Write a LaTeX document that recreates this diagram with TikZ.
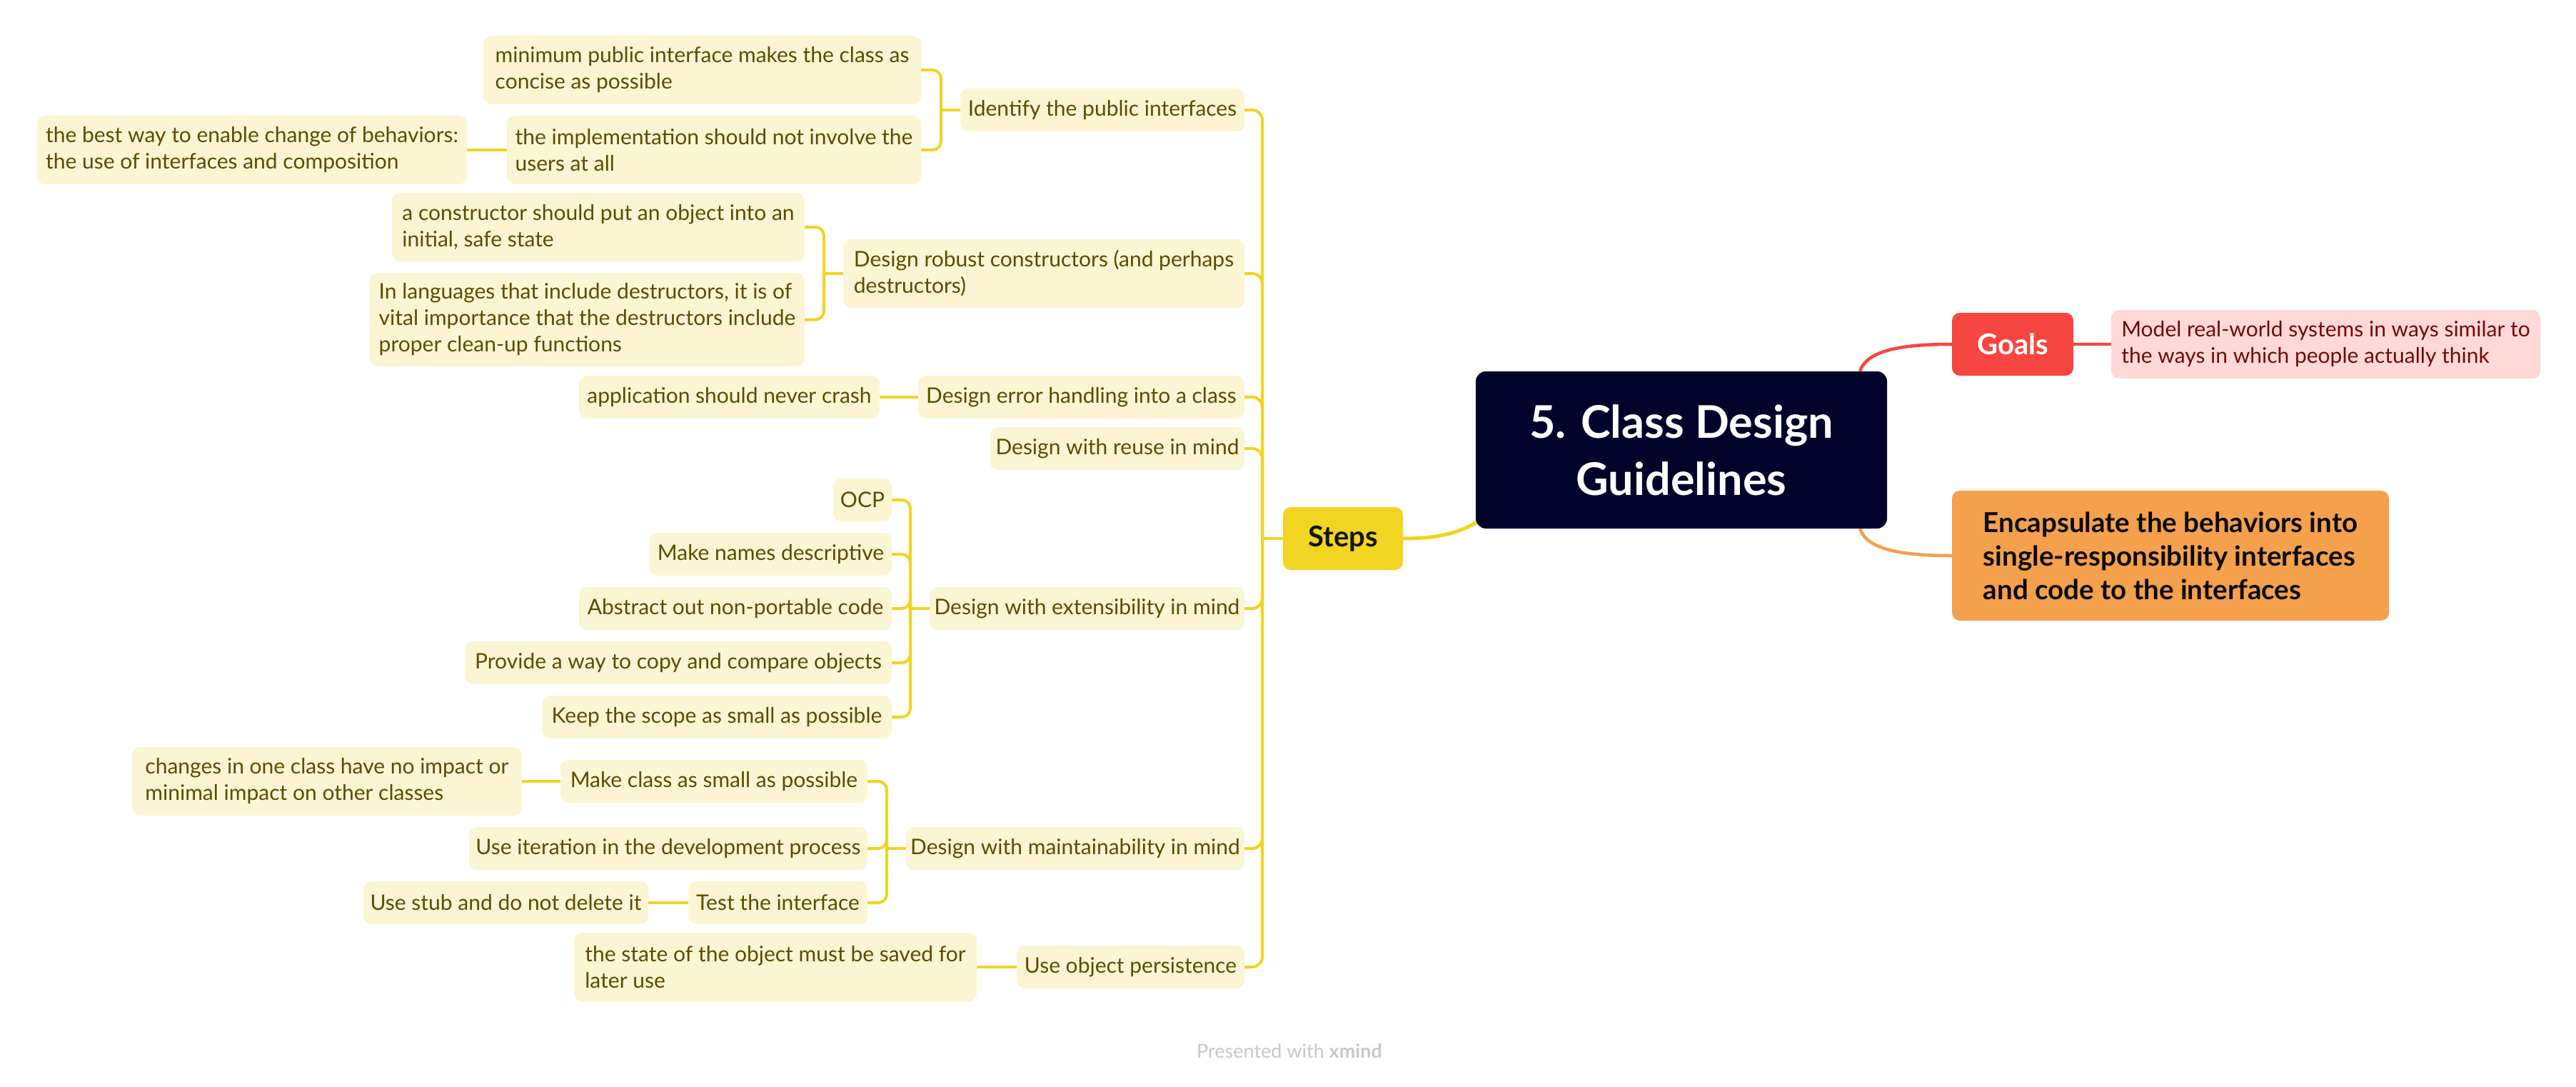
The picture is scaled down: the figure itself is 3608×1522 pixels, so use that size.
\documentclass[tikz,border=0pt]{standalone}
\usepackage{fontspec}
\setmainfont{Lato}
\usetikzlibrary{calc}
\definecolor{lvfill}{HTML}{FCF5D4}
\definecolor{lvtext}{HTML}{5C4C00}
\definecolor{ylc}{HTML}{F2D322}
\definecolor{stfill}{HTML}{F2D422}
\definecolor{sttext}{HTML}{141414}
\definecolor{cnfill}{HTML}{02032B}
\definecolor{glfill}{HTML}{F7463F}
\definecolor{pkfill}{HTML}{FFD9D7}
\definecolor{pktext}{HTML}{6E0B0B}
\definecolor{orfill}{HTML}{F5A04D}
\definecolor{ortext}{HTML}{0A0A0A}
\definecolor{wmtext}{HTML}{C8C8C8}
\pgfdeclarelayer{bg}
\pgfsetlayers{bg,main}
\newcommand\mmnode[7]{\node[#6, minimum width={#4-#2}, minimum height={#5-#3}] (#1) at ({(#2+#4)/2},{(#3+#5)/2}) {#7};}
\begin{document}
\begin{tikzpicture}[x=1pt,y=-1pt,
  base/.style={inner sep=0pt, rounded corners=11pt, align=left},
  lvl/.style={base, fill=lvfill, text=lvtext, font=\fontsize{30}{37}\selectfont},
  stepsbox/.style={base, fill=stfill, text=sttext, font=\bfseries\fontsize{40}{44}\selectfont},
  titlebox/.style={base, rounded corners=14pt, fill=cnfill, text=white, align=center, font=\bfseries\fontsize{63}{80}\selectfont},
  goalbox/.style={base, fill=glfill, text=white, font=\bfseries\fontsize{40}{44}\selectfont},
  pinkbox/.style={base, fill=pkfill, text=pktext, font=\fontsize{30}{37}\selectfont},
  orbox/.style={base, fill=orfill, text=ortext, font=\bfseries\fontsize{38.5}{47}\selectfont},
  ylink/.style={draw=ylc, line width=4pt},
  ymain/.style={draw=ylc, line width=5pt},
  rlink/.style={draw=glfill, line width=4.5pt},
  olink/.style={draw=orfill, line width=4.5pt}
]
\begin{pgfonlayer}{bg}
\fill[white] (0,0) rectangle (3608,1522);
\end{pgfonlayer}
\useasboundingbox (0,0) rectangle (3608,1522);

% central and main branches
\mmnode{cen}{2067}{520}{2643}{740}{titlebox}{5. Class Design\\Guidelines}
\mmnode{steps}{1797}{710}{1965}{798}{stepsbox}{Steps}
\mmnode{goals}{2734}{438}{2904}{526}{goalbox}{Goals}
\mmnode{pink}{2957}{434}{3558}{530}{pinkbox}{Model real-world systems in ways similar to\\the ways in which people actually think}
\mmnode{or}{2734}{687}{3346}{869}{orbox}{Encapsulate the behaviors into\\single-responsibility interfaces\\and code to the interfaces}

% level 2
\mmnode{id}{1345}{124}{1743}{184}{lvl}{Identify the public interfaces}
\mmnode{dr}{1181}{335}{1743}{431}{lvl}{Design robust constructors (and perhaps\\destructors)}
\mmnode{eh}{1286}{526}{1743}{586}{lvl}{Design error handling into a class}
\mmnode{ru}{1387}{598}{1743}{658}{lvl}{Design with reuse in mind}
\mmnode{ex}{1302}{822}{1743}{882}{lvl}{Design with extensibility in mind}
\mmnode{mt}{1269}{1158}{1743}{1218}{lvl}{Design with maintainability in mind}
\mmnode{op}{1424}{1324}{1743}{1384}{lvl}{Use object persistence}

% level 3
\mmnode{mp}{677}{50}{1290}{146}{lvl}{minimum public interface makes the class as\\concise as possible}
\mmnode{im}{710}{162}{1290}{258}{lvl}{the implementation should not involve the\\users at all}
\mmnode{bw}{52}{162}{654}{258}{lvl}{the best way to enable change of behaviors:\\the use of interfaces and composition}
\mmnode{co}{549}{270}{1127}{366}{lvl}{a constructor should put an object into an\\initial, safe state}
\mmnode{la}{518}{382}{1127}{513}{lvl}{In languages that include destructors, it is of\\vital importance that the destructors include\\proper clean-up functions}
\mmnode{ap}{811}{526}{1232}{586}{lvl}{application should never crash}
\mmnode{ocp}{1167}{670}{1249}{730}{lvl}{OCP}
\mmnode{mn}{910}{746}{1249}{806}{lvl}{Make names descriptive}
\mmnode{ab}{811}{822}{1249}{882}{lvl}{Abstract out non-portable code}
\mmnode{pw}{651}{898}{1249}{958}{lvl}{Provide a way to copy and compare objects}
\mmnode{ks}{759}{974}{1249}{1034}{lvl}{Keep the scope as small as possible}
\mmnode{mc}{785}{1064}{1215}{1124}{lvl}{Make class as small as possible}
\mmnode{ch}{185}{1046}{731}{1142}{lvl}{changes in one class have no impact or\\minimal impact on other classes}
\mmnode{ui}{657}{1158}{1215}{1218}{lvl}{Use iteration in the development process}
\mmnode{ti}{964}{1234}{1215}{1294}{lvl}{Test the interface}
\mmnode{us}{509}{1234}{908}{1294}{lvl}{Use stub and do not delete it}
\mmnode{st}{804}{1306}{1368}{1402}{lvl}{the state of the object must be saved for\\later use}

% watermark
\node[text=wmtext, font=\fontsize{27}{30}\selectfont, inner sep=0pt] (wm) at (1806,1472) {Presented with \textbf{xmind}};

\begin{pgfonlayer}{bg}
% main connectors
\draw[ymain] (steps.east) .. controls +(55,0) and +(-25,14) .. ([shift={(4pt,10pt)}]cen.south west);
\draw[rlink] ([xshift=-38pt]cen.north east) .. controls +(10,-32) and +(-60,0) .. (goals.west);
\draw[olink] ([xshift=-38pt]cen.south east) .. controls +(10,32) and +(-60,0) .. (or.west);
\draw[rlink] (goals.east) -- (pink.west);
% trunk
\coordinate (stj) at (1768,754);
\draw[ylink] (steps.west) -- (stj);
\foreach \c in {id,dr,eh,ru,ex,mt,op} \draw[ylink, rounded corners=14pt] (stj) |- (\c.east);
% brackets
\coordinate (idj) at (1318,154);
\draw[ylink] (id.west) -- (idj);
\foreach \c in {mp,im} \draw[ylink, rounded corners=12pt] (idj) |- (\c.east);
\coordinate (drj) at (1154,383);
\draw[ylink] (dr.west) -- (drj);
\foreach \c in {co,la} \draw[ylink, rounded corners=12pt] (drj) |- (\c.east);
\coordinate (exj) at (1275,852);
\draw[ylink] (ex.west) -- (exj);
\foreach \c in {ocp,mn,ab,pw,ks} \draw[ylink, rounded corners=12pt] (exj) |- (\c.east);
\coordinate (mtj) at (1242,1188);
\draw[ylink] (mt.west) -- (mtj);
\foreach \c in {mc,ui,ti} \draw[ylink, rounded corners=12pt] (mtj) |- (\c.east);
% single links
\draw[ylink] (eh.west) -- (ap.east);
\draw[ylink] (im.west) -- (bw.east);
\draw[ylink] (mc.west) -- (ch.east);
\draw[ylink] (ti.west) -- (us.east);
\draw[ylink] (op.west) -- (st.east);
\end{pgfonlayer}
\end{tikzpicture}
\end{document}
